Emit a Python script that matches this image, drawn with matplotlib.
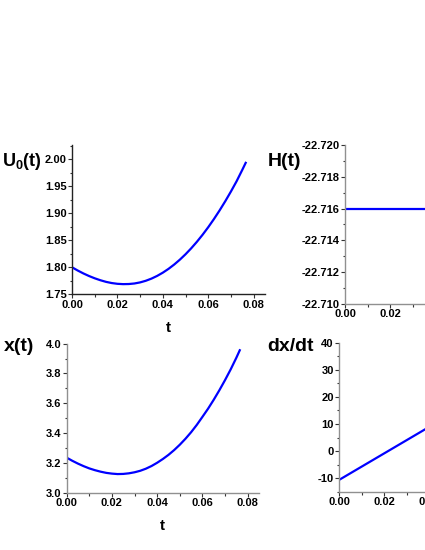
import matplotlib
matplotlib.use("Agg")
import matplotlib.pyplot as plt
from matplotlib.ticker import MultipleLocator, FormatStrFormatter

plt.rcParams['font.family'] = ['Liberation Sans', 'DejaVu Sans']
plt.rcParams['font.weight'] = 'bold'
plt.rcParams['axes.unicode_minus'] = False
plt.rcParams['mathtext.fontset'] = 'custom'
plt.rcParams['mathtext.bf'] = 'Liberation Sans:bold'
plt.rcParams['mathtext.rm'] = 'Liberation Sans:bold'

# time grid
t = [0.0, 0.0025, 0.005, 0.0075, 0.010, 0.0125, 0.015, 0.0175, 0.020,
     0.0225, 0.025, 0.0275, 0.030, 0.0325, 0.035, 0.0375, 0.040,
     0.0425, 0.045, 0.0475, 0.050, 0.0525, 0.055, 0.0575, 0.060,
     0.0625, 0.065, 0.0675, 0.070, 0.0725, 0.075, 0.0765]
u0 = [1.8000, 1.7940, 1.7886, 1.7838, 1.7796, 1.7760, 1.7730, 1.7708, 1.7694,
      1.7688, 1.7690, 1.7700, 1.7720, 1.7750, 1.7790, 1.7840, 1.7900,
      1.7970, 1.8050, 1.8140, 1.8240, 1.8350, 1.8470, 1.8600, 1.8740,
      1.8890, 1.9050, 1.9220, 1.9400, 1.9590, 1.9800, 1.9930]
xt = [3.235, 3.214, 3.195, 3.178, 3.163, 3.151, 3.141, 3.133, 3.128,
      3.125, 3.126, 3.130, 3.137, 3.147, 3.161, 3.179, 3.201,
      3.226, 3.254, 3.286, 3.322, 3.362, 3.406, 3.455, 3.509,
      3.564, 3.624, 3.688, 3.756, 3.828, 3.906, 3.956]
t_h = [0.0, 0.0765]
h = [-22.716, -22.716]
t_v = [0.0, 0.01, 0.02, 0.03, 0.04, 0.05, 0.06, 0.07, 0.0765]
dxdt = [-10.6, -5.7, -0.8, 4.1, 9.0, 14.0, 19.2, 24.6, 28.3]

BLUE = '#0000ff'
GRAY = '#909090'

fig = plt.figure(figsize=(4.25, 5.5), dpi=100)


def style(ax, spine_col, xmax=0.085):
    for s in ['top', 'right']:
        ax.spines[s].set_visible(False)
    for s in ['left', 'bottom']:
        ax.spines[s].set_color(spine_col)
        ax.spines[s].set_linewidth(1.0)
    ax.set_xlim(0, xmax)
    ax.xaxis.set_major_locator(MultipleLocator(0.02))
    ax.xaxis.set_minor_locator(MultipleLocator(0.01))
    ax.xaxis.set_major_formatter(FormatStrFormatter('%.2f'))
    ax.tick_params(which='major', length=3, width=0.8, pad=0.8,
                   labelsize=8, colors='#333333', labelcolor='black')
    ax.tick_params(which='minor', length=1.8, width=0.8, colors='#333333')
    for lab in ax.get_xticklabels() + ax.get_yticklabels():
        lab.set_fontweight('bold')


# U0(t)
ax1 = fig.add_axes([0.1694, 0.4649, 0.4541, 0.2715])
ax1.plot(t, u0, color=BLUE, lw=1.6)
ax1.set_ylim(1.75, 2.026)
ax1.yaxis.set_major_locator(MultipleLocator(0.05))
ax1.yaxis.set_minor_locator(MultipleLocator(0.025))
ax1.yaxis.set_major_formatter(FormatStrFormatter('%.2f'))
style(ax1, '#222222')

# H(t)
ax2 = fig.add_axes([0.8118, 0.4473, 0.4541, 0.2891])
ax2.plot(t_h, h, color=BLUE, lw=1.6)
ax2.set_ylim(-22.710, -22.720)
ax2.yaxis.set_major_locator(MultipleLocator(0.002))
ax2.yaxis.set_minor_locator(MultipleLocator(0.001))
ax2.yaxis.set_major_formatter(FormatStrFormatter('%.3f'))
style(ax2, GRAY)

# x(t)
ax3 = fig.add_axes([0.1569, 0.1042, 0.4525, 0.2709])
ax3.plot(t, xt, color=BLUE, lw=1.6)
ax3.set_ylim(3.0, 4.0)
ax3.yaxis.set_major_locator(MultipleLocator(0.2))
ax3.yaxis.set_minor_locator(MultipleLocator(0.1))
ax3.yaxis.set_major_formatter(FormatStrFormatter('%.1f'))
style(ax3, GRAY)

# dx/dt
ax4 = fig.add_axes([0.7976, 0.1056, 0.4525, 0.2716])
ax4.plot(t_v, dxdt, color=BLUE, lw=1.6)
ax4.set_ylim(-15, 40)
ax4.set_yticks([-10, 0, 10, 20, 30, 40])
ax4.yaxis.set_minor_locator(MultipleLocator(5))
style(ax4, GRAY)

fig.text(0.005, 0.706, r'$\mathbf{U_0(t)}$', fontsize=13, va='center', ha='left')
fig.text(0.630, 0.706, 'H(t)', fontsize=14, fontweight='bold', va='center', ha='left')
fig.text(0.395, 0.404, 't', fontsize=11, fontweight='bold', va='center', ha='center')
fig.text(0.010, 0.370, 'x(t)', fontsize=14, fontweight='bold', va='center', ha='left')
fig.text(0.630, 0.370, 'dx/dt', fontsize=14, fontweight='bold', va='center', ha='left')
fig.text(0.383, 0.044, 't', fontsize=11, fontweight='bold', va='center', ha='center')

fig.savefig('out.png', dpi=100)
